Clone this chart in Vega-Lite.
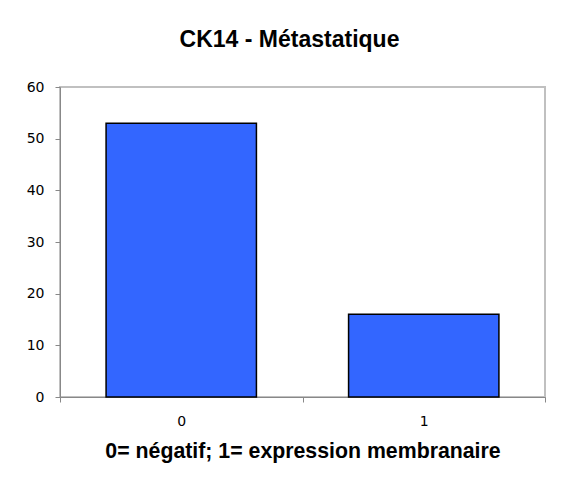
{
  "$schema": "https://vega.github.io/schema/vega-lite/v6.json",
  "autosize": "none",
  "width": 485,
  "height": 310,
  "padding": {"left": 60, "top": 87, "right": 22, "bottom": 98},
  "background": "white",
  "title": {
    "text": "CK14 - Métastatique",
    "font": "Liberation Sans",
    "fontSize": 23,
    "fontWeight": "bold",
    "color": "black",
    "anchor": "middle",
    "dx": -13,
    "offset": 28
  },
  "data": {"values": [{"categorie": "0", "nombre": 53}, {"categorie": "1", "nombre": 16}]},
  "mark": {"type": "bar", "fill": "#3366FF", "stroke": "black", "strokeWidth": 1.5, "width": {"band": 0.62}},
  "encoding": {
    "x": {
      "field": "categorie",
      "type": "nominal",
      "scale": {"paddingInner": 0, "paddingOuter": 0},
      "axis": {
        "title": "0= négatif; 1= expression membranaire",
        "titleFont": "Liberation Sans",
        "titleFontSize": 21.3,
        "titleFontWeight": "bold",
        "titleColor": "black",
        "titlePadding": 12,
        "labelAngle": 0,
        "labelFont": "DejaVu Sans",
        "labelFontSize": 14,
        "labelColor": "black",
        "labelPadding": 12,
        "tickBand": "extent",
        "tickSize": 5,
        "tickColor": "#888888",
        "domainColor": "#888888",
        "grid": false
      }
    },
    "y": {
      "field": "nombre",
      "type": "quantitative",
      "scale": {"domain": [0, 60], "nice": false},
      "axis": {
        "title": null,
        "values": [0, 10, 20, 30, 40, 50, 60],
        "labelFont": "DejaVu Sans",
        "labelFontSize": 14,
        "labelColor": "black",
        "labelPadding": 11,
        "tickSize": 5,
        "tickColor": "#888888",
        "domainColor": "#888888",
        "grid": false
      }
    }
  },
  "config": {
    "view": {"stroke": "#c0c0c0", "strokeWidth": 2}
  }
}
